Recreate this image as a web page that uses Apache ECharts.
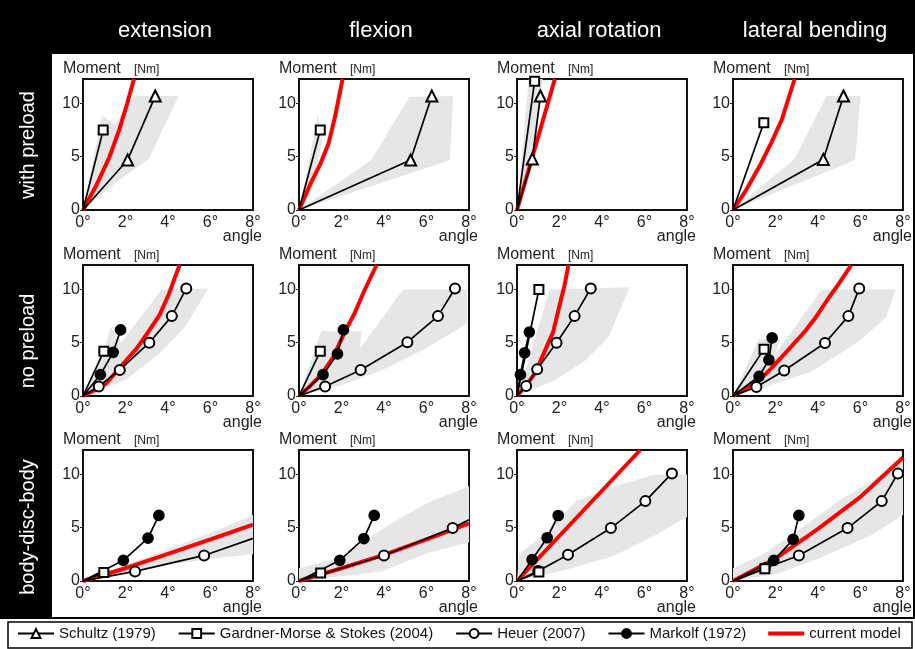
<!DOCTYPE html>
<html><head><meta charset="utf-8">
<script src="https://cdn.jsdelivr.net/npm/echarts@6/dist/echarts.min.js"></script>
<style>html,body{margin:0;padding:0;background:#fff}#c{width:915px;height:649px}</style>
</head><body><div id="c"></div>
<script>
// ---------- labels ----------
const colTitles = ['extension', 'flexion', 'axial rotation', 'lateral bending'];
const rowTitles = ['with preload', 'no preload', 'body-disc-body'];
const xTicks = [0, 2, 4, 6, 8];
const yTicks = [0, 5, 10];
const seriesNames = ['Schultz (1979)', 'Gardner-Morse & Stokes (2004)', 'Heuer (2007)', 'Markolf (1972)', 'current model'];

// ---------- with preload ----------
const ext_pre_schultz = [[0,0],[2.1,4.7],[3.4,10.7]];
const ext_pre_gardner = [[0,0],[0.95,7.5]];
const ext_pre_model = [[0,0],[0.6,2.2],[1.25,5.0],[1.7,7.5],[2.08,10.0],[2.4,12.3]];
const ext_pre_range = [[[0,0],[0.9,8.9],[1.5,8.0],[2.4,10.7],[4.5,10.7],[3.1,4.8],[1.5,2.5],[0,0]]];

const flx_pre_schultz = [[0,0],[5.25,4.7],[6.25,10.7]];
const flx_pre_gardner = [[0,0],[1.0,7.5]];
const flx_pre_model = [[0,0],[0.55,2.5],[1.0,4.3],[1.4,6.3],[1.7,8.8],[2.05,12.3]];
const flx_pre_range = [[[0,0],[0.9,9.0],[1.1,6.5],[0.6,2.2],[0,0]],
                       [[0,0],[3.4,4.7],[5.2,10.6],[7.25,10.7],[7.1,4.7],[0,0]]];

const axr_pre_schultz = [[0,0],[0.72,4.8],[1.1,10.7]];
const axr_pre_gardner = [[0,0],[0.83,12.1]];
const axr_pre_model = [[0,0],[0.9,6.2],[1.78,12.3]];
const axr_pre_range = [[[0,0],[0.55,12.3],[1.2,12.3],[0.8,4.5],[0,0]]];

const lat_pre_schultz = [[0,0],[4.25,4.75],[5.2,10.7]];
const lat_pre_gardner = [[0,0],[1.45,8.2]];
const lat_pre_model = [[0,0],[0.6,1.8],[1.3,4.3],[1.8,6.3],[2.3,8.5],[2.9,12.3]];
const lat_pre_range = [[[0,0],[2.9,4.8],[4.4,10.7],[6.0,10.7],[5.75,4.7],[0,0]]];

// ---------- no preload ----------
const ext_np_gardner = [[0,0],[0.98,4.2]];
const ext_np_heuer = [[0,0],[0.74,0.9],[1.73,2.45],[3.12,5.0],[4.18,7.5],[4.86,10.1]];
const ext_np_markolf = [[0,0],[0.82,2.0],[1.42,4.1],[1.77,6.2]];
const ext_np_model = [[0,0],[0.5,0.5],[1.1,1.2],[1.75,2.7],[2.5,4.4],[3.0,5.8],[3.6,7.6],[4.05,9.6],[4.3,11.0],[4.55,12.3]];
const ext_np_range = [[[0,0],[1.1,5.0],[1.3,6.5],[1.8,5.0],[3.7,10.0],[5.9,10.1],[4.8,6.5],[3.6,4.0],[2.0,1.5],[0,0]]];

const flx_np_gardner = [[0,0],[1.0,4.2]];
const flx_np_heuer = [[0,0],[1.23,0.9],[2.9,2.45],[5.1,5.05],[6.54,7.5],[7.34,10.1]];
const flx_np_markolf = [[0,0],[1.13,2.0],[1.81,3.95],[2.09,6.2]];
const flx_np_model = [[0,0],[0.5,0.9],[1.05,2.0],[1.6,3.6],[2.15,6.0],[2.6,7.7],[3.1,10.0],[3.65,12.3]];
const flx_np_range = [[[0,0],[1.05,6.1],[2.95,6.1],[2.85,4.4],[4.9,10.0],[7.9,10.0],[7.9,6.8],[6.0,4.5],[4.0,2.5],[2.0,1.0],[0,0]]];
const flx_np_tint = [[[0,0],[0.8,4.2],[0.95,3.9],[0,0]]];

const axr_np_gardner = [[0,0],[1.03,10.0]];
const axr_np_heuer = [[0,0],[0.43,0.93],[0.95,2.5],[1.86,5.0],[2.71,7.5],[3.47,10.1]];
const axr_np_markolf = [[0,0],[0.16,2.0],[0.36,4.05],[0.58,6.0]];
const axr_np_model = [[0,0],[0.6,1.45],[0.9,2.3],[1.26,4.0],[1.7,6.0],[2.05,8.9],[2.25,10.5],[2.42,12.3]];
const axr_np_range = [[[0,0],[0.5,3.0],[1.0,6.5],[1.55,10.0],[5.3,10.2],[4.3,5.5],[3.2,3.3],[1.8,1.5],[0,0]]];

const lat_np_gardner = [[0,0],[1.46,4.4]];
const lat_np_heuer = [[0,0],[1.1,0.85],[2.41,2.4],[4.33,4.97],[5.43,7.5],[5.94,10.1]];
const lat_np_markolf = [[0,0],[1.23,1.85],[1.69,3.4],[1.84,5.45]];
const lat_np_model = [[0,0],[1.2,1.4],[1.8,2.6],[2.45,4.0],[3.4,6.1],[3.9,7.4],[4.5,9.2],[5.0,10.6],[5.5,12.1],[5.55,12.3]];
const lat_np_range = [[[0,0],[1.2,5.3],[2.2,5.3],[2.0,4.0],[4.2,10.0],[7.65,10.0],[7.2,7.4],[5.9,5.1],[3.7,2.3],[1.5,0.8],[0,0]]];

// ---------- body-disc-body ----------
const ext_bdb_gardner = [[0,0],[0.98,0.8]];
const ext_bdb_heuer = [[0,0],[2.45,0.9],[5.7,2.4],[8.0,4.0]];
const ext_bdb_markolf = [[0,0],[1.9,1.94],[3.06,4.03],[3.57,6.16]];
const ext_bdb_model = [[0,0],[2,1.2],[4,2.55],[6,3.9],[8,5.3]];
const ext_bdb_range = [[[0,0],[4,3.0],[6,4.5],[8,6.2],[8,2.5],[6,2.1],[4,1.5],[0,0]]];

const flx_bdb_gardner = [[0,0],[1.02,0.75]];
const flx_bdb_heuer = [[0,0],[4.0,2.4],[7.23,4.97],[8.0,5.75]];
const flx_bdb_markolf = [[0,0],[1.92,1.94],[3.05,3.97],[3.54,6.16]];
const flx_bdb_model = [[0,0],[2,1.2],[4,2.45],[6,3.9],[8,5.4]];
const flx_bdb_range = [[[0,0],[0,1.2],[2,2.2],[4,5.0],[6,7.3],[8,8.9],[8,3.65],[6,2.6],[3.9,0.9],[0,0]]];

const axr_bdb_gardner = [[0,0],[1.03,0.84]];
const axr_bdb_heuer = [[0,0],[1.0,0.95],[2.4,2.47],[4.42,4.97],[6.04,7.5],[7.29,10.1]];
const axr_bdb_markolf = [[0,0],[0.71,2.0],[1.42,4.06],[1.94,6.15]];
const axr_bdb_model = [[0,0],[2.9,6.15],[5.8,12.3]];
const axr_bdb_range = [[[0,0],[0.1,2.5],[1.4,4.6],[2.8,7.5],[4.6,8.9],[6.5,10.0],[8,10.0],[8,6.0],[6.5,4.3],[4.6,2.4],[2.4,1.1],[0,0]]];

const lat_bdb_gardner = [[0,0],[1.5,1.15]];
const lat_bdb_heuer = [[0,0],[1.5,1.2],[3.1,2.4],[5.39,4.97],[7.0,7.5],[7.76,10.1]];
const lat_bdb_markolf = [[0,0],[1.92,1.94],[2.83,3.9],[3.1,6.16]];
const lat_bdb_model = [[0,0],[2,2.1],[4,4.9],[6,7.9],[8,11.6]];
const lat_bdb_range = [[[0,0],[0,1.2],[1.5,2.6],[3.2,4.9],[5.1,7.7],[6.4,9.2],[8,11.4],[8,6.2],[6.5,4.3],[4,2.1],[2.1,0.7],[0,0]]];

// ---------- panel assembly (row-major) ----------
const panels = [
  {range: ext_pre_range, model: ext_pre_model, schultz: ext_pre_schultz, gardner: ext_pre_gardner},
  {range: flx_pre_range, model: flx_pre_model, schultz: flx_pre_schultz, gardner: flx_pre_gardner},
  {range: axr_pre_range, model: axr_pre_model, schultz: axr_pre_schultz, gardner: axr_pre_gardner},
  {range: lat_pre_range, model: lat_pre_model, schultz: lat_pre_schultz, gardner: lat_pre_gardner},
  {range: ext_np_range, model: ext_np_model, heuer: ext_np_heuer, markolf: ext_np_markolf, gardner: ext_np_gardner},
  {range: flx_np_range, tint: flx_np_tint, model: flx_np_model, heuer: flx_np_heuer, markolf: flx_np_markolf, gardner: flx_np_gardner},
  {range: axr_np_range, model: axr_np_model, heuer: axr_np_heuer, markolf: axr_np_markolf, gardner: axr_np_gardner},
  {range: lat_np_range, model: lat_np_model, heuer: lat_np_heuer, markolf: lat_np_markolf, gardner: lat_np_gardner},
  {range: ext_bdb_range, model: ext_bdb_model, heuer: ext_bdb_heuer, markolf: ext_bdb_markolf, gardner: ext_bdb_gardner, heuerOpenEnd: true},
  {range: flx_bdb_range, model: flx_bdb_model, heuer: flx_bdb_heuer, markolf: flx_bdb_markolf, gardner: flx_bdb_gardner, heuerOpenEnd: true},
  {range: axr_bdb_range, model: axr_bdb_model, heuer: axr_bdb_heuer, markolf: axr_bdb_markolf, gardner: axr_bdb_gardner},
  {range: lat_bdb_range, model: lat_bdb_model, heuer: lat_bdb_heuer, markolf: lat_bdb_markolf, gardner: lat_bdb_gardner}
];

// ---------- layout ----------
const FONT = '"Liberation Sans", Arial, Helvetica, sans-serif';
const gridLefts = [83, 299, 517, 733];
const gridTops = [79, 265, 450];
const GW = 170, GH = 131;
const YMAX = 12.3;

const markerStyles = {
  schultz: {name: seriesNames[0], symbol: 'emptyTriangle', size: 11, z: 4},
  heuer:   {name: seriesNames[2], symbol: 'emptyCircle', size: 10, z: 4},
  markolf: {name: seriesNames[3], symbol: 'circle', size: 10, z: 5},
  gardner: {name: seriesNames[1], symbol: 'emptyRect', size: 9, z: 6}
};

const grids = [], xAxes = [], yAxes = [], series = [], graphics = [];

function polyRender(polys, color) {
  return function (params, api) {
    return {
      type: 'group',
      children: polys.map(p => ({
        type: 'polygon',
        shape: {points: p.map(pt => api.coord(pt))},
        style: {fill: color}
      }))
    };
  };
}

panels.forEach((p, i) => {
  const r = Math.floor(i / 4), c = i % 4;
  const L = gridLefts[c], T = gridTops[r];
  grids.push({left: L, top: T, width: GW, height: GH, show: true,
    borderColor: '#111', borderWidth: 2, backgroundColor: 'transparent'});
  xAxes.push({
    gridIndex: i, type: 'value', min: 0, max: 8, interval: 2,
    axisLine: {show: false}, axisTick: {show: false}, splitLine: {show: false},
    axisLabel: {fontSize: 16, color: '#222', fontFamily: FONT, margin: 5,
      formatter: v => (xTicks.includes(v) ? v + '°' : '')}
  });
  yAxes.push({
    gridIndex: i, type: 'value', min: 0, max: YMAX, interval: 5,
    axisLine: {show: false}, splitLine: {show: false},
    axisTick: {show: true, length: 3, lineStyle: {color: '#222'}},
    axisLabel: {fontSize: 16, color: '#222', fontFamily: FONT, margin: 3, showMaxLabel: false,
      formatter: v => (yTicks.includes(v) ? String(v) : '')}
  });
  // grey range
  series.push({type: 'custom', name: 'range', xAxisIndex: i, yAxisIndex: i, silent: true, z: 1,
    data: [[0, 0]], renderItem: polyRender(p.range, '#e6e6e6')});
  if (p.tint) {
    series.push({type: 'custom', name: 'tint', xAxisIndex: i, yAxisIndex: i, silent: true, z: 1,
      data: [[0, 0]], renderItem: polyRender(p.tint, '#d3ecef')});
  }
  // model
  series.push({type: 'line', name: seriesNames[4], xAxisIndex: i, yAxisIndex: i, data: p.model,
    symbol: 'none', smooth: false, z: 3, clip: true,
    lineStyle: {color: '#ff0000', width: 4}, itemStyle: {color: '#ff0000'}});
  ['heuer', 'markolf', 'schultz', 'gardner'].forEach(k => {
    if (!p[k]) return;
    const st = markerStyles[k];
    const n = p[k].length;
    const data = p[k].map((pt, j) => {
      if (j === 0 || (k === 'heuer' && p.heuerOpenEnd && j === n - 1)) return {value: pt, symbol: 'none'};
      return pt;
    });
    series.push({type: 'line', name: st.name, xAxisIndex: i, yAxisIndex: i, data,
      symbol: st.symbol, symbolSize: st.size, showSymbol: true, z: st.z, clip: false,
      lineStyle: {color: '#000', width: 1.7},
      itemStyle: {color: '#000', borderColor: '#000', borderWidth: 1.7}});
  });
  // axis captions
  graphics.push({type: 'text', x: L - 20, y: T - 10, z: 10,
    style: {text: 'Moment', font: '16px ' + FONT, fill: '#222', align: 'left', verticalAlign: 'middle'}});
  graphics.push({type: 'text', x: L + 51, y: T - 9, z: 10,
    style: {text: '[Nm]', font: '12px ' + FONT, fill: '#222', align: 'left', verticalAlign: 'middle'}});
  graphics.push({type: 'text', x: L + GW + 9, y: T + GH + 27, z: 10,
    style: {text: 'angle', font: '16px ' + FONT, fill: '#222', align: 'right', verticalAlign: 'middle'}});
});

// frame, header and side column
graphics.unshift(
  {type: 'rect', shape: {x: 0, y: 0, width: 915, height: 54}, style: {fill: '#000'}, z: 0},
  {type: 'rect', shape: {x: 0, y: 0, width: 52, height: 619}, style: {fill: '#000'}, z: 0},
  {type: 'rect', shape: {x: 1, y: 1, width: 913, height: 617}, style: {fill: 'none', stroke: '#000', lineWidth: 2}, z: 0},
  {type: 'rect', shape: {x: 8, y: 622, width: 904, height: 26}, style: {fill: 'none', stroke: '#000', lineWidth: 1.5}, z: 0}
);
colTitles.forEach((t, c) => {
  graphics.push({type: 'text', x: gridLefts[c] + GW / 2 - 3, y: 31, z: 10,
    style: {text: t, font: '22px ' + FONT, fill: '#fff', align: 'center', verticalAlign: 'middle'}});
});
const rowCenters = [145, 341, 527];
rowTitles.forEach((t, r) => {
  graphics.push({type: 'text', x: 28, y: rowCenters[r], rotation: Math.PI / 2, z: 10,
    style: {text: t, font: '20px ' + FONT, fill: '#fff', align: 'center', verticalAlign: 'middle'}});
});

const legendData = seriesNames.map((n, k) => k === 4
  ? {name: n, icon: 'path://M0,0 L36,0 L36,4 L0,4 Z', itemStyle: {color: '#ff0000'}}
  : {name: n});

const chart = echarts.init(document.getElementById('c'), null, {renderer: 'canvas'});
chart.setOption({
  animation: false,
  backgroundColor: '#fff',
  textStyle: {fontFamily: FONT},
  grid: grids,
  xAxis: xAxes,
  yAxis: yAxes,
  series: series,
  graphic: graphics,
  legend: {
    data: legendData, left: 12, bottom: 3, itemWidth: 36, itemHeight: 11, itemGap: 22,
    selectedMode: false,
    textStyle: {fontSize: 15, color: '#111', fontFamily: FONT}
  }
});
</script></body></html>
